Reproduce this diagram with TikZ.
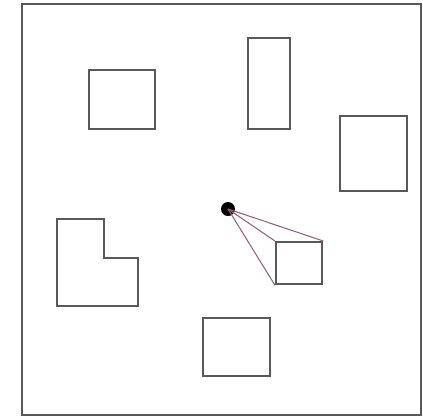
\documentclass[tikz,border=0pt]{standalone}
\usepackage{tikz}

\tikzset{
    obstacle/.style={draw=black!65, line width=1.3pt},
    ray/.style={draw={rgb,255:red,150;green,95;blue,125}, line width=0.6pt}
}

\begin{document}
\begin{tikzpicture}[x=0.02cm, y=-0.02cm]

    \useasboundingbox (0,0) rectangle (423,417);

    % Frame
    \draw[black!65, line width=1.3pt] (22,4) rectangle (421,415);

    % Obstacles
    \draw[obstacle] (89,70) rectangle (155,129);
    \draw[obstacle] (248,38) rectangle (290,129);
    \draw[obstacle] (340,116) rectangle (407,191);
    \draw[obstacle] (57,219) -- (104,219) -- (104,258) -- (138,258)
        -- (138,306) -- (57,306) -- cycle;
    \draw[obstacle] (203,318) rectangle (270,376);

    % Target box
    \node[obstacle, rectangle, inner sep=0pt, minimum width=0.92cm,
        minimum height=0.84cm, anchor=north west] (box) at (275,241) {};

    % Viewpoint
    \fill (228,209) circle (0.14cm);
    \coordinate (eye) at (228,209);

    % Rays
    \draw[ray] (eye) -- (box.north east);
    \draw[ray] (eye) -- (box.north west);
    \draw[ray] (eye) -- (box.south west);

\end{tikzpicture}
\end{document}
